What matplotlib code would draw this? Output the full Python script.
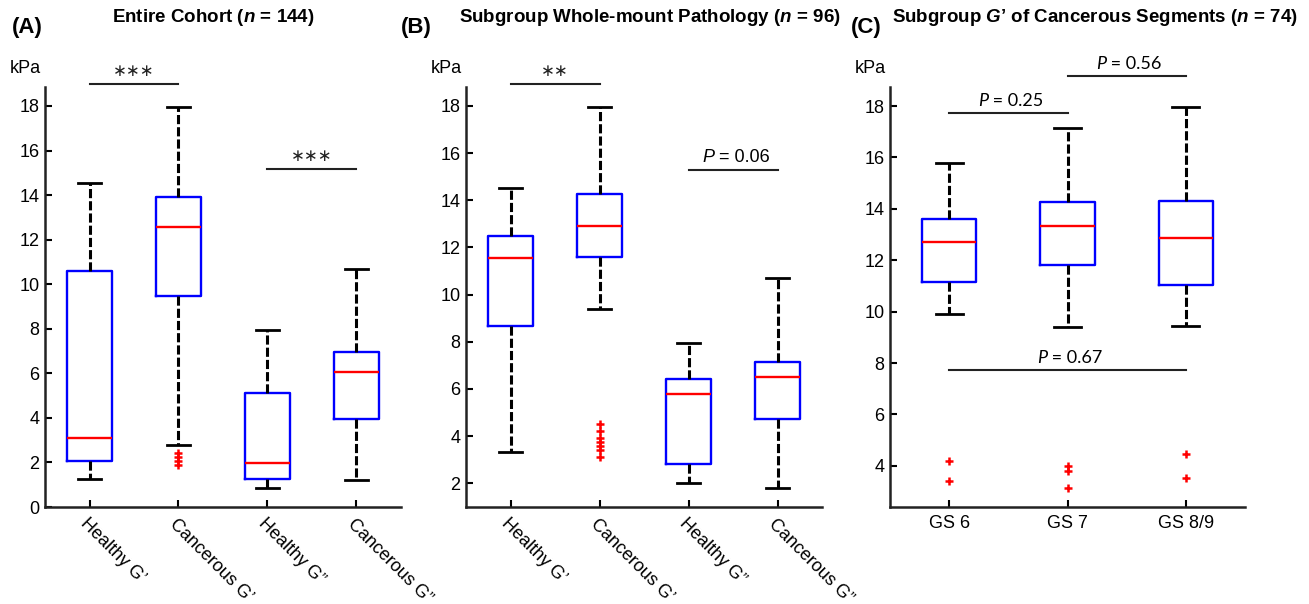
import matplotlib
matplotlib.use("Agg")
import matplotlib.pyplot as plt

plt.rcParams['font.family'] = ['Liberation Sans', 'DejaVu Sans']
plt.rcParams['mathtext.fontset'] = 'custom'
plt.rcParams['mathtext.rm'] = 'Liberation Sans'
plt.rcParams['mathtext.it'] = 'Liberation Sans:italic'
plt.rcParams['mathtext.bf'] = 'Liberation Sans:bold'
plt.rcParams['mathtext.bfit'] = 'Liberation Sans:italic:bold'

# panel A - entire cohort
a_labels = ["Healthy G’", "Cancerous G’", "Healthy G”", "Cancerous G”"]
a_q1 = [2.05, 9.45, 1.25, 3.95]
a_med = [3.08, 12.58, 1.97, 6.04]
a_q3 = [10.6, 13.92, 5.12, 6.97]
a_lo = [1.26, 2.77, 0.87, 1.21]
a_hi = [14.55, 17.97, 7.94, 10.7]
a_out = [[], [2.42, 2.24, 2.08, 1.88], [], []]
a_sig = [(1, 2, 18.97, "∗∗∗"), (3, 4, 15.15, "∗∗∗")]

# panel B - whole-mount pathology subgroup
b_labels = a_labels
b_q1 = [8.66, 11.6, 2.82, 4.72]
b_med = [11.55, 12.92, 5.78, 6.5]
b_q3 = [12.5, 14.25, 6.43, 7.12]
b_lo = [3.32, 9.37, 2.01, 1.8]
b_hi = [14.53, 17.97, 7.94, 10.7]
b_out = [[], [4.5, 4.2, 3.92, 3.75, 3.58, 3.41, 3.12], [], []]
b_sig = [(1, 2, 18.92, "∗∗"), (3, 4, 15.27, "0.06")]

# panel C - G' of cancerous segments by Gleason score
c_labels = ["GS 6", "GS 7", "GS 8/9"]
c_q1 = [11.14, 11.81, 11.02]
c_med = [12.72, 13.33, 12.85]
c_q3 = [13.59, 14.28, 14.3]
c_lo = [9.9, 9.4, 9.44]
c_hi = [15.78, 17.13, 17.97]
c_out = [[4.18, 3.42], [3.99, 3.8, 3.13], [4.47, 3.53]]
c_sig = [(1, 2, 17.74, "0.25"), (2, 3, 19.17, "0.56"), (1, 3, 7.73, "0.67")]


def draw_panel(ax, labels, q1, med, q3, lo, hi, out, sig, ylim, yticks,
               width, pfont='Liberation Sans', rotate=True):
    stats = []
    for i in range(len(labels)):
        stats.append(dict(med=med[i], q1=q1[i], q3=q3[i], whislo=lo[i],
                          whishi=hi[i], fliers=out[i]))
    ax.bxp(stats, widths=width, showfliers=True,
           boxprops=dict(color='#0000ff', lw=1.7),
           medianprops=dict(color='#ff0000', lw=1.7),
           whiskerprops=dict(color='black', lw=2.2, linestyle=(0, (3.0, 1.0))),
           capprops=dict(color='black', lw=2.0),
           flierprops=dict(marker='+', markeredgecolor='#ff0000',
                           markersize=6, markeredgewidth=1.8))
    n = len(labels)
    ax.set_xlim(0.5, n + 0.5)
    ax.set_ylim(*ylim)
    ax.set_yticks(yticks)
    ax.set_xticks(range(1, n + 1))
    if rotate:
        ax.set_xticklabels(labels, rotation=-45, ha='left',
                           rotation_mode='anchor', fontsize=13)
    else:
        ax.set_xticklabels(labels, fontsize=13)
    ax.tick_params(axis='y', labelsize=13, direction='in', length=5, width=1.5, pad=4)
    ax.tick_params(axis='x', direction='in', length=5, width=1.5, pad=6)
    for s in ['top', 'right']:
        ax.spines[s].set_visible(False)
    for s in ['left', 'bottom']:
        ax.spines[s].set_linewidth(1.8)
        ax.spines[s].set_color('#222222')
    ax.text(-0.1, 1.025, "kPa", transform=ax.transAxes, fontsize=13,
            ha='left', va='bottom')

    for x1, x2, y, txt in sig:
        ax.plot([x1, x2], [y, y], color='#222222', lw=1.5, clip_on=False)
        xm = (x1 + x2) / 2
        if txt.startswith("∗"):
            ax.annotate(txt, (xm, y), xytext=(0, 3), textcoords='offset points',
                        ha='center', va='bottom', fontsize=12,
                        family=['DejaVu Sans'], color='#222222',
                        annotation_clip=False)
        else:
            tp = ax.annotate("P", (xm, y), xytext=(-22, 3), textcoords='offset points',
                             ha='left', va='bottom', fontsize=13, style='italic',
                             family=[pfont], annotation_clip=False)
            ax.annotate(" = " + txt, (1, 0), xycoords=tp, ha='left', va='bottom',
                        fontsize=13, family=[pfont], annotation_clip=False)


fig = plt.figure(figsize=(13.09, 6.04), dpi=100)
ax_a = fig.add_axes([45 / 1309, 97 / 604, 356 / 1309, 420 / 604])
ax_b = fig.add_axes([466 / 1309, 97 / 604, 356 / 1309, 420 / 604])
ax_c = fig.add_axes([890 / 1309, 97 / 604, 355 / 1309, 420 / 604])

draw_panel(ax_a, a_labels, a_q1, a_med, a_q3, a_lo, a_hi, a_out, a_sig,
           (0, 18.85), range(0, 19, 2), 0.5)
draw_panel(ax_b, b_labels, b_q1, b_med, b_q3, b_lo, b_hi, b_out, b_sig,
           (0.99, 18.8), range(2, 19, 2), 0.5)
draw_panel(ax_c, c_labels, c_q1, c_med, c_q3, c_lo, c_hi, c_out, c_sig,
           (2.4, 18.74), range(4, 19, 2), 0.46, pfont='Lato', rotate=False)

fig.text(213 / 1309, 1 - 17 / 604, r"Entire Cohort ($\bfit{n}$ = 144)",
         fontsize=13.5, fontweight='bold', ha='center', va='center')
fig.text(650 / 1309, 1 - 17 / 604, r"Subgroup Whole-mount Pathology ($\bfit{n}$ = 96)",
         fontsize=13.5, fontweight='bold', ha='center', va='center')
fig.text(1095 / 1309, 1 - 17 / 604,
         r"Subgroup $\bfit{G}$’ of Cancerous Segments ($\bfit{n}$ = 74)",
         fontsize=13.5, fontweight='bold', ha='center', va='center')
for x, lab in [(12, "(A)"), (401, "(B)"), (851, "(C)")]:
    fig.text(x / 1309, 1 - 28 / 604, lab, fontsize=16, fontweight='bold',
             ha='left', va='center')

fig.savefig("out.png", dpi=100)
